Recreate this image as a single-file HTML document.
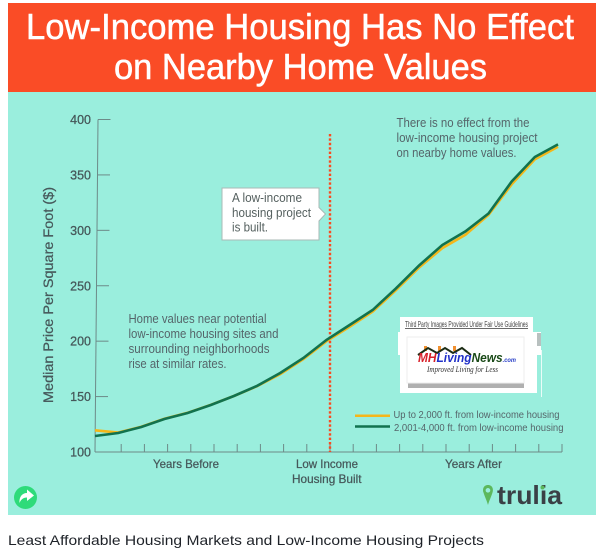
<!DOCTYPE html>
<html lang="en">
<head>
<meta charset="utf-8">
<title>Low-Income Housing Has No Effect on Nearby Home Values</title>
<style>
html,body{margin:0;padding:0;background:#fff;width:600px;height:559px;overflow:hidden}
svg{display:block;font-family:"Liberation Sans",sans-serif}
</style>
</head>
<body>
<svg id="chart" width="600" height="559" viewBox="0 0 600 559" xmlns="http://www.w3.org/2000/svg">
  <rect x="8" y="92" width="588" height="423" fill="#9aeedd"/>
  <rect x="8" y="3" width="588" height="89" fill="#fa4c26"/>
  <g fill="#fff" stroke="#fff" stroke-width="0.5" font-size="36">
    <text x="26" y="39" textLength="548" lengthAdjust="spacingAndGlyphs">Low-Income Housing Has No Effect</text>
    <text x="114" y="79" textLength="373" lengthAdjust="spacingAndGlyphs">on Nearby Home Values</text>
  </g>

  <g id="y-axis"></g>
  <g id="x-axis"></g>

  <text transform="translate(53 295) rotate(-90)" text-anchor="middle" font-size="14" font-weight="400" fill="#46585a" stroke="#46585a" stroke-width="0.25" textLength="216" lengthAdjust="spacingAndGlyphs">Median Price Per Square Foot ($)</text>

  <line id="event-line" y1="134" stroke="#fb4a20" stroke-width="2.4" stroke-dasharray="2.4 2"/>
  <g id="series"></g>

  <g>
    <path d="M222 188H319V207.5L325.5 214L319 221V240H222Z" fill="#fff" stroke="#a9b9b6" stroke-width="1"/>
    <g font-size="12.5" fill="#55605f">
      <text x="232" y="202" textLength="70" lengthAdjust="spacingAndGlyphs">A low-income</text>
      <text x="232" y="217" textLength="79" lengthAdjust="spacingAndGlyphs">housing project</text>
      <text x="232" y="231.500" textLength="36" lengthAdjust="spacingAndGlyphs">is built.</text>
    </g>
  </g>

  <g font-size="12.5" fill="#55656a">
    <text x="128.500" y="323" textLength="138" lengthAdjust="spacingAndGlyphs">Home values near potential</text>
    <text x="128.500" y="338" textLength="150" lengthAdjust="spacingAndGlyphs">low-income housing sites and</text>
    <text x="128.500" y="353" textLength="141" lengthAdjust="spacingAndGlyphs">surrounding neighborhoods</text>
    <text x="128.500" y="368" textLength="98" lengthAdjust="spacingAndGlyphs">rise at similar rates.</text>
  </g>
  <g font-size="12.5" fill="#55656a">
    <text x="396.500" y="127" textLength="133" lengthAdjust="spacingAndGlyphs">There is no effect from the</text>
    <text x="396.500" y="142" textLength="141" lengthAdjust="spacingAndGlyphs">low-income housing project</text>
    <text x="396.500" y="157" textLength="120" lengthAdjust="spacingAndGlyphs">on nearby home values.</text>
  </g>

  <g>
    <rect x="400" y="317" width="133" height="16" fill="#fff"/>
    <rect x="398" y="332" width="143" height="23" fill="#fff"/>
    <rect x="400" y="354" width="137" height="39" fill="#fff"/>
    <line x1="541.500" y1="350" x2="541.500" y2="397" stroke="#fff" stroke-width="0.8"/>
    <rect x="537" y="333" width="4" height="13" fill="#b8c0bf"/>
    <text x="405" y="327" font-size="8" fill="#444" textLength="123" lengthAdjust="spacingAndGlyphs" text-decoration="underline">Third Party Images Provided Under Fair Use Guidelines</text>
    <rect x="408" y="381" width="116" height="7" fill="#b0b0b0"/>
    <rect x="407" y="337" width="117" height="46" fill="#fff" stroke="#eee" stroke-width="1"/>
    <path d="M424 346h3v5h-3zM438 346h3v5h-3zM453 346h3v5h-3z" fill="#f09030"/>
    <path d="M418 355L428 348L437 353L445 348L453 353L462 348L471 355" fill="none" stroke="#1c2c14" stroke-width="2"/>
    <text x="418" y="362" font-size="12.5" font-weight="700" font-style="italic" textLength="98" lengthAdjust="spacingAndGlyphs"><tspan fill="#d8202a">MH</tspan><tspan fill="#2030c8">Living</tspan><tspan fill="#1a4a18">News</tspan><tspan fill="#2a40c8" font-size="6">.com</tspan></text>
    <text x="427" y="372" font-size="8.500" font-style="italic" font-family="Liberation Serif, serif" fill="#333" textLength="71" lengthAdjust="spacingAndGlyphs">Improved Living for Less</text>
  </g>

  <g>
    <line x1="355" y1="415.700" x2="390" y2="415.700" stroke="#f4b619" stroke-width="2.500"/>
    <line x1="355" y1="426.500" x2="390" y2="426.500" stroke="#11724e" stroke-width="2.500"/>
    <text x="393.500" y="418" font-size="10" fill="#55656a" textLength="166" lengthAdjust="spacingAndGlyphs">Up to 2,000 ft. from low-income housing</text>
    <text x="394" y="431" font-size="10" fill="#55656a" textLength="169.500" lengthAdjust="spacingAndGlyphs">2,001-4,000 ft. from low-income housing</text>
  </g>

  <g font-size="12" fill="#46585a" stroke="#46585a" stroke-width="0.25">
    <text x="153" y="468" textLength="66" lengthAdjust="spacingAndGlyphs">Years Before</text>
    <text x="296" y="468" textLength="62" lengthAdjust="spacingAndGlyphs">Low Income</text>
    <text x="292" y="483" textLength="69.500" lengthAdjust="spacingAndGlyphs">Housing Built</text>
    <text x="445" y="468" textLength="57" lengthAdjust="spacingAndGlyphs">Years After</text>
  </g>

  <g>
    <circle cx="25.500" cy="497.500" r="11.500" fill="#2edb7a"/>
    <path d="M27 489.500L34 495.500L27 501V497.500C23 497.500 21 499.500 19.500 503C19 497 22 493 27 493Z" fill="#fff"/>
  </g>

  <g>
    <path fill-rule="evenodd" d="M488 485C483 485 482.500 490 483.500 492.500C484.500 496 487 501 488 505C489 501 491.500 496 492.500 492.500C493.500 490 493 485 488 485ZM488 488A2.300 2.300 0 1 1 487.900 488Z" fill="#5cb85c"/>
    <text x="497" y="504" font-size="26" font-weight="700" fill="#3a4046" textLength="65" lengthAdjust="spacingAndGlyphs">trulia</text>
    <circle cx="542.500" cy="487.500" r="2" fill="#5cb85c"/>
  </g>

  <text x="8" y="545" font-size="14" fill="#1e2228" textLength="476" lengthAdjust="spacingAndGlyphs">Least Affordable Housing Markets and Low-Income Housing Projects</text>
</svg>

<script>
// Chart data
const yearOffsets = [-10,-9,-8,-7,-6,-5,-4,-3,-2,-1,0,1,2,3,4,5,6,7,8,9,10];
const nearValues = [119.6,117.6,122.8,130,135.4,142.6,150.5,159.4,170.3,183.8,200,213,226.8,246,266.5,284,296,314,341.5,364,375.5];
const farValues = [114.4,117.1,122.6,129.8,135.2,142.4,150.5,159.6,171.3,184.8,201.1,214.6,228.2,247.6,268.3,286.8,299,315.2,344.1,366.2,377.5];
const yTicks = [100,150,200,250,300,350,400];
const xTicks = [-9,-8,-7,-6,-5,-4,-3,-2,-1,0,1,2,3,4,5,6,7,8,9,10];
const eventYear = [0];

const NS = 'http://www.w3.org/2000/svg';
const AXIS_COLOR = '#6d8a88';

function yScale(v){ return 452 - (v - 100) * (332.5 / 300); }
function lineX(t){ return 95 + (t + 10) * 23.15; }
function tickX(t){ return 98 + (t + 10) * 23.2; }
function axisLeft(v){ return 95 + (v - 100) * (3 / 300); }

const yAxis = document.getElementById('y-axis');
const xAxis = document.getElementById('x-axis');
const series = document.getElementById('series');

const yLine = document.createElementNS(NS, 'line');


yLine.setAttribute('x1', axisLeft(100));
yLine.setAttribute('y1', yScale(100));
yLine.setAttribute('x2', axisLeft(400));
yLine.setAttribute('y2', yScale(400));
yLine.setAttribute('stroke', AXIS_COLOR);
yLine.setAttribute('stroke-width', '1');
yAxis.appendChild(yLine);

yTicks.forEach(function(v){
  if (v !== 100) {
    const t = document.createElementNS(NS, 'line');
    
    
    t.setAttribute('x1', axisLeft(v));
    t.setAttribute('x2', axisLeft(v) + 12.5);
    t.setAttribute('y1', yScale(v));
    t.setAttribute('y2', yScale(v));
    t.setAttribute('stroke', AXIS_COLOR);
    t.setAttribute('stroke-width', '1');
    yAxis.appendChild(t);
  }
  const l = document.createElementNS(NS, 'text');
  
  
  l.setAttribute('x', 91);
  l.setAttribute('y', yScale(v) + 4.5);
  l.setAttribute('text-anchor', 'end');
  l.setAttribute('font-size', '12.5');
  l.setAttribute('fill', '#46585a');
  l.setAttribute('stroke', '#46585a');
  l.setAttribute('stroke-width', '0.25');
  l.textContent = v;
  yAxis.appendChild(l);
});

const xLine = document.createElementNS(NS, 'line');


xLine.setAttribute('x1', 95);
xLine.setAttribute('x2', tickX(xTicks[xTicks.length - 1]));
xLine.setAttribute('y1', yScale(100));
xLine.setAttribute('y2', yScale(100));
xLine.setAttribute('stroke', AXIS_COLOR);
xLine.setAttribute('stroke-width', '1');
xAxis.appendChild(xLine);

xTicks.forEach(function(t){
  const m = document.createElementNS(NS, 'line');
  
  
  m.setAttribute('x1', tickX(t));
  m.setAttribute('x2', tickX(t));
  m.setAttribute('y1', yScale(100));
  m.setAttribute('y2', yScale(100) - 8);
  m.setAttribute('stroke', AXIS_COLOR);
  m.setAttribute('stroke-width', '1');
  xAxis.appendChild(m);
});

const marker = document.getElementById('event-line');
marker.setAttribute('x1', tickX(eventYear[0]));
marker.setAttribute('x2', tickX(eventYear[0]));
marker.setAttribute('y2', yScale(100));

function pathFor(vals){
  return vals.map(function(v, i){
    return (i ? 'L' : 'M') + lineX(yearOffsets[i]).toFixed(1) + ' ' + yScale(v).toFixed(1);
  }).join('');
}

const nearPath = document.createElementNS(NS, 'path');


nearPath.setAttribute('d', pathFor(nearValues));
nearPath.setAttribute('fill', 'none');
nearPath.setAttribute('stroke', '#f4b619');
nearPath.setAttribute('stroke-width', '2.6');
series.appendChild(nearPath);

const farPath = document.createElementNS(NS, 'path');


farPath.setAttribute('d', pathFor(farValues));
farPath.setAttribute('fill', 'none');
farPath.setAttribute('stroke', '#11724e');
farPath.setAttribute('stroke-width', '2.6');
series.appendChild(farPath);
</script>
</body>
</html>
